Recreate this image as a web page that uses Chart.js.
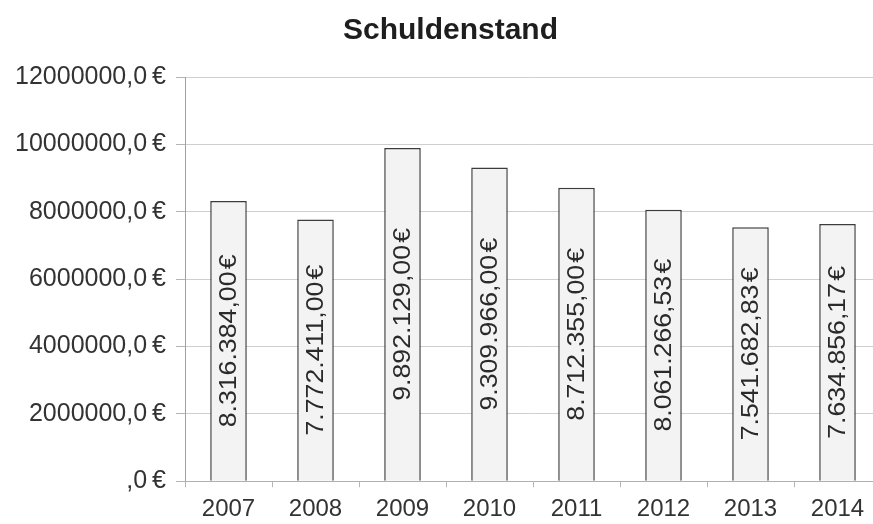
<!DOCTYPE html>
<html>
<head>
<meta charset="utf-8">
<script src="https://cdn.jsdelivr.net/npm/chart.js@4/dist/chart.umd.min.js"></script>
<style>
  html, body { margin: 0; padding: 0; background: #fff; overflow: hidden; }
  #wrap { width: 881px; height: 532px; }
</style>
</head>
<body>
<div id="wrap"><canvas id="schuldenChart"></canvas></div>
<script>
// Schuldenstand 2007-2014
const jahre = ['2007', '2008', '2009', '2010', '2011', '2012', '2013', '2014'];
const schulden = [8316384.00, 7772411.00, 9892129.00, 9309966.00, 8712355.00, 8061266.53, 7541682.83, 7634856.17];
const yTicks = [0, 2000000, 4000000, 6000000, 8000000, 10000000, 12000000];

const FONT = '"Liberation Sans", Arial, sans-serif';

function euroLabel(v) {
    return v.toLocaleString('de-DE', { minimumFractionDigits: 2, maximumFractionDigits: 2 }) + '\u200a€';
}

function tickLabel(v) {
    return (v === 0 ? '' : String(v)) + ',0\u2009€';
}

// title sits a bit right of the canvas centre in the original
const titleShift = {
    id: 'titleShift',
    afterLayout(chart) {
        if (chart.titleBlock) {
            chart.titleBlock.left += 10;
            chart.titleBlock.right += 10;
        }
    }
};

// value labels rotated inside the bars (scan is a bit stretched, so stretch text too)
const barLabels = {
    id: 'barLabels',
    afterDatasetsDraw(chart) {
        const ctx = chart.ctx;
        const meta = chart.getDatasetMeta(0);
        ctx.save();
        ctx.font = '23px ' + FONT;
        ctx.fillStyle = '#2a2a2a';
        ctx.textAlign = 'center';
        ctx.textBaseline = 'middle';
        meta.data.forEach(function(bar, i) {
            const cy = (bar.y + bar.base) / 2;
            ctx.save();
            ctx.translate(bar.x + 1, cy);
            ctx.rotate(-Math.PI / 2);
            ctx.scale(1.16, 1);
            ctx.fillText(euroLabel(schulden[i]), 0, 0);
            ctx.restore();
        });
        ctx.restore();
    }
};

new Chart(document.getElementById('schuldenChart'), {
    type: 'bar',
    data: {
        labels: jahre,
        datasets: [{
            label: 'Schuldenstand',
            data: schulden,
            backgroundColor: '#f3f3f3',
            borderColor: '#3c3c3c',
            borderWidth: 1.5,
            borderSkipped: 'bottom',
            barPercentage: 0.84,
            categoryPercentage: 0.5
        }]
    },
    options: {
        responsive: true,
        maintainAspectRatio: false,
        animation: false,
        layout: {
            padding: { left: 0, right: 0, top: 0, bottom: 0 }
        },
        plugins: {
            legend: { display: false },
            tooltip: { enabled: false },
            title: {
                display: true,
                text: 'Schuldenstand',
                color: '#1e1e1e',
                font: { size: 30, weight: 'bold', family: FONT },
                padding: { top: 13, bottom: 28 }
            }
        },
        scales: {
            y: {
                min: 0,
                max: 12000000,
                afterBuildTicks: function(axis) {
                    axis.ticks = yTicks.map(function(v) { return { value: v }; });
                },
                afterFit: function(axis) {
                    axis.width = 185;
                },
                ticks: {
                    callback: function(v) { return tickLabel(v); },
                    font: { size: 25, family: FONT },
                    color: '#333',
                    padding: 10
                },
                grid: {
                    color: '#cfcfcf',
                    tickLength: 9,
                    tickColor: '#b5b5b5'
                },
                border: { color: '#a0a0a0' }
            },
            x: {
                ticks: {
                    font: { size: 24, family: FONT },
                    color: '#333',
                    padding: 8
                },
                grid: {
                    offset: true,
                    drawOnChartArea: false,
                    tickLength: 6,
                    tickColor: '#b5b5b5'
                },
                border: { color: '#b0b0b0' }
            }
        }
    },
    plugins: [titleShift, barLabels]
});
</script>
</body>
</html>
